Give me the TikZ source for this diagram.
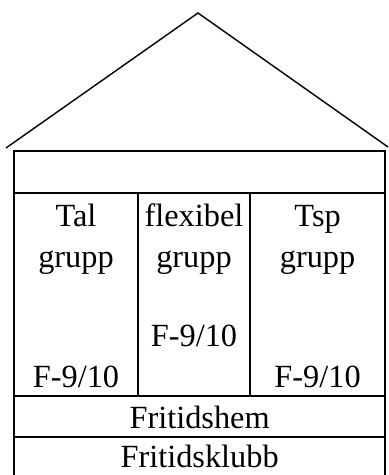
\documentclass[tikz,border=0pt]{standalone}
\usepackage{fontspec}
\setmainfont{Liberation Serif}

\begin{document}
\begin{tikzpicture}[every node/.style={font=\fontsize{23}{28}\selectfont,anchor=base,inner sep=0pt}]
\useasboundingbox (0,0) rectangle (9.7,11.875);
% roof
\coordinate (top) at (4.95,11.55);
\coordinate (eaveL) at (0.15,8.175);
\coordinate (eaveR) at (9.7,8.2);
\draw[line width=1pt] (eaveL)--(top)--(eaveR);
% walls and floors
\draw[line width=2pt] (0.35,-0.1) rectangle (9.625,8.1);
\draw[line width=2pt] (0.35,7.05)--(9.625,7.05);
\draw[line width=2pt] (0.35,1.975)--(9.625,1.975);
\draw[line width=2pt] (0.35,0.95)--(9.625,0.95);
\draw[line width=2pt] (3.45,7.05)--(3.45,1.975);
\draw[line width=2pt] (6.25,7.05)--(6.25,1.975);
% rooms
\node (tal) at (1.9,6.2) {Tal};
\node (talgrupp) at (1.9,5.175) {grupp};
\node (talf) at (1.9,2.175) {F-9/10};
\node (flex) at (4.85,6.2) {flexibel};
\node (flexgrupp) at (4.85,5.175) {grupp};
\node (flexf) at (4.85,3.2) {F-9/10};
\node (tsp) at (7.94,6.2) {Tsp};
\node (tspgrupp) at (7.94,5.175) {grupp};
\node (tspf) at (7.94,2.175) {F-9/10};
\node (hem) at (4.99,1.15) {Fritidshem};
\node (klubb) at (4.99,0.175) {Fritidsklubb};
\end{tikzpicture}
\end{document}
